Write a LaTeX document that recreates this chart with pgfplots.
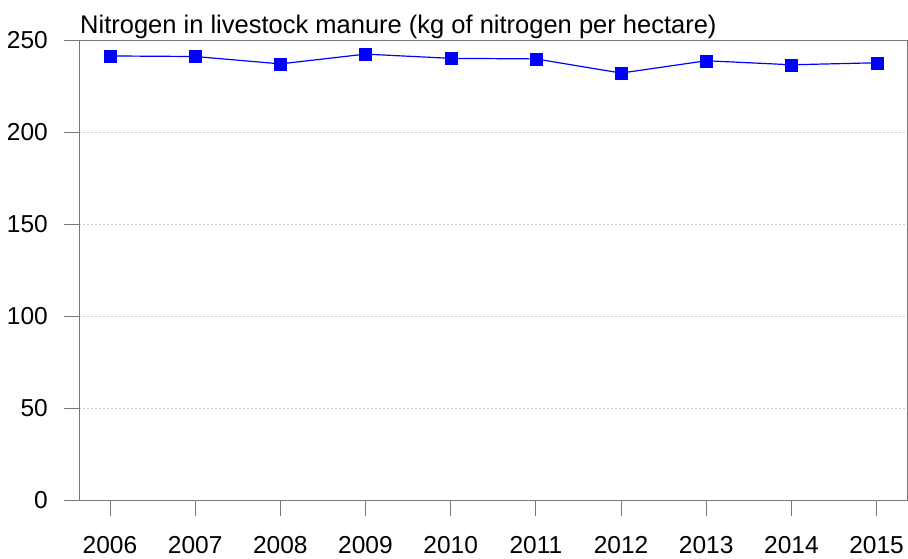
\documentclass[border=0pt]{standalone}
\usepackage{pgfplots}
\pgfplotsset{compat=1.18}
\usepackage{fontspec}
\setmainfont{Liberation Sans}
\definecolor{framegray}{RGB}{120,120,120}
\definecolor{gridgray}{RGB}{200,200,200}
\begin{document}
\begin{tikzpicture}
\useasboundingbox (-79.3pt,-57.5pt) rectangle (828.7pt,500.5pt);
\begin{axis}[
  at={(0,0)}, anchor=south west,
  scale only axis,
  width=828.2pt, height=460pt,
  xmin=2005.64, xmax=2015.362,
  ymin=0, ymax=250,
  xtick={2006,2007,...,2015},
  ytick={0,50,...,250},
  xtick pos=bottom, ytick pos=left,
  tick align=outside,
  major tick length=15pt,
  tick style={framegray, line width=0.9pt},
  axis line style={framegray, line width=0.9pt},
  ymajorgrids,
  grid style={gridgray, line width=0.8pt, dash pattern=on 2pt off 2pt},
  /pgf/number format/assume math mode=true,
  /pgf/number format/1000 sep={},
  ticklabel style={font=\fontsize{24.5}{28}\selectfont},
  xticklabel style={yshift=-17pt},
  yticklabel style={xshift=-13pt},
  clip=false,
]
\addplot[color={rgb,255:red,0;green,0;blue,255}, line width=1.2pt, mark=square*, mark size=6pt,
  mark options={solid, fill={rgb,255:red,0;green,0;blue,255}, draw={rgb,255:red,0;green,0;blue,255}, line width=0.3pt}]
coordinates {
(2006,241.6) (2007,241.3) (2008,237.3) (2009,242.6) (2010,240.3)
(2011,240.0) (2012,232.3) (2013,239.0) (2014,236.8) (2015,237.9)
};
\node[anchor=base west, inner sep=0pt, font=\fontsize{25.5}{30}\selectfont] at (rel axis cs:0,1) [yshift=7.2pt, xshift=0.7pt] {Nitrogen in livestock manure (kg of nitrogen per hectare)};
\end{axis}
\end{tikzpicture}
\end{document}
